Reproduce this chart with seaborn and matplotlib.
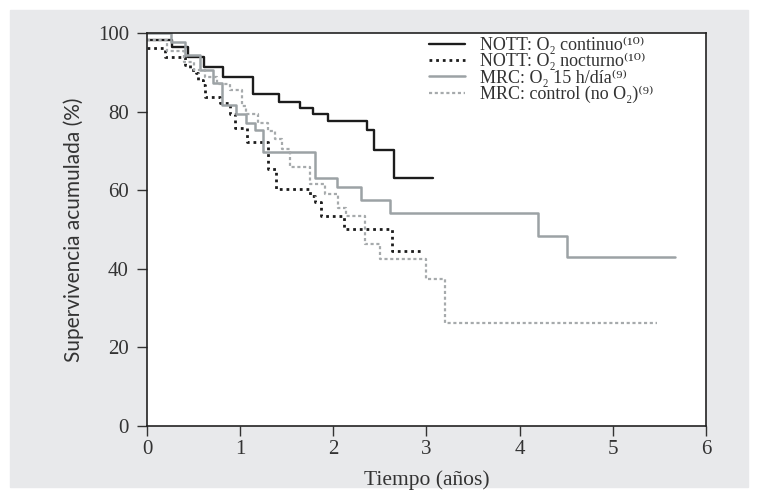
import matplotlib
matplotlib.use("Agg")
import pandas as pd
import matplotlib.pyplot as plt
import seaborn as sns
from matplotlib.patches import Rectangle

# ---------------------------------
# Data
# ---------------------------------

nott_cont_t = [0, 0.27, 0.44, 0.61, 0.82, 1.14, 1.42, 1.64, 1.78, 1.94, 2.36, 2.44, 2.65, 3.07]
nott_cont_s = [98.3, 96.5, 94.0, 91.4, 88.9, 84.5, 82.5, 81.0, 79.3, 77.6, 75.3, 70.2, 63.0, 63.0]

nott_noct_t = [0, 0.19, 0.41, 0.46, 0.53, 0.55, 0.60, 0.62, 0.78, 0.89, 0.94, 1.07, 1.30,
               1.39, 1.75, 1.80, 1.87, 2.12, 2.63, 2.96]
nott_noct_s = [96.2, 94.0, 91.9, 90.6, 89.8, 88.1, 86.8, 83.8, 82.1, 79.5, 75.7, 72.3, 65.5,
               60.4, 58.6, 57.0, 53.5, 50.1, 44.6, 44.6]

mrc_15_t = [0, 0.26, 0.41, 0.57, 0.71, 0.80, 0.96, 1.06, 1.16, 1.25, 1.80, 2.04, 2.30, 2.61,
            4.20, 4.51, 5.67]
mrc_15_s = [100, 97.7, 94.5, 90.6, 87.2, 81.8, 79.5, 77.0, 75.3, 69.7, 63.2, 60.8, 57.4, 54.1,
            48.3, 43.1, 43.1]

mrc_ctrl_t = [0, 0.22, 0.40, 0.50, 0.62, 0.75, 0.89, 1.02, 1.06, 1.19, 1.30, 1.37, 1.45, 1.53,
              1.75, 1.91, 2.05, 2.14, 2.34, 2.50, 3.00, 3.20, 5.47]
mrc_ctrl_s = [98.3, 95.3, 92.5, 90.5, 88.9, 87.0, 85.5, 81.5, 79.5, 77.0, 75.0, 73.0, 70.6, 66.0,
              61.6, 59.1, 55.5, 53.5, 46.3, 42.5, 37.3, 26.3, 26.3]

labels = [
    "NOTT: O₂ continuo⁽¹⁰⁾",
    "NOTT: O₂ nocturno⁽¹⁰⁾",
    "MRC: O₂ 15 h/día⁽⁹⁾",
    "MRC: control (no O₂)⁽⁹⁾",
]

x_ticks = [0, 1, 2, 3, 4, 5, 6]
y_ticks = [0, 20, 40, 60, 80, 100]

# ---------------------------------
# Style
# ---------------------------------

sns.set_style("white")
plt.rcParams["font.family"] = ["Liberation Serif", "DejaVu Serif"]

fig = plt.figure(figsize=(7.58, 4.97), dpi=100)
fig.patches.append(
    Rectangle((10 / 758, 10 / 497), 738 / 758, 477 / 497,
              transform=fig.transFigure, color="#e8e9eb", zorder=-10)
)
ax = fig.add_axes([0.1939, 0.1429, 0.7375, 0.7907])
ax.set_facecolor("white")

series = [
    (nott_cont_t, nott_cont_s, "#1c1c1c", "-", 1.7),
    (nott_noct_t, nott_noct_s, "#1c1c1c", (0, (1, 1.4)), 2.0),
    (mrc_15_t, mrc_15_s, "#9ca2a5", "-", 1.8),
    (mrc_ctrl_t, mrc_ctrl_s, "#a6aaac", (0, (1.4, 1.2)), 1.6),
]

for (t, s, col, ls, lw), lab in zip(series, labels):
    df = pd.DataFrame({"t": t, "s": s})
    sns.lineplot(data=df, x="t", y="s", ax=ax, color=col, linestyle=ls,
                 linewidth=lw, drawstyle="steps-post", label=lab)

ax.set_xlim(0, 6)
ax.set_ylim(0, 100)
ax.set_xticks(x_ticks)
ax.set_yticks(y_ticks)
ax.tick_params(axis="both", direction="out", length=7, width=1, color="#333333",
               labelsize=15, labelcolor="#333333", left=True, bottom=True)
ax.tick_params(axis="y", pad=6)
ax.tick_params(axis="x", pad=3)

for sp in ax.spines.values():
    sp.set_color("#222222")
    sp.set_linewidth(1.2)

ax.set_xlabel("Tiempo (años)", fontsize=15.5, color="#333333", labelpad=8)
ax.set_ylabel("Supervivencia acumulada (%)", fontsize=15, color="#333333",
              family=["Lato", "DejaVu Sans"], labelpad=10)

leg = ax.legend(loc="upper left", bbox_to_anchor=(0.505, 0.99), frameon=False,
                fontsize=13, handlelength=2.0, handletextpad=0.8,
                labelspacing=-0.05, borderaxespad=0, borderpad=0)
for txt in leg.get_texts():
    txt.set_color("#333333")

plt.savefig("out.png", dpi=100, facecolor="white")
